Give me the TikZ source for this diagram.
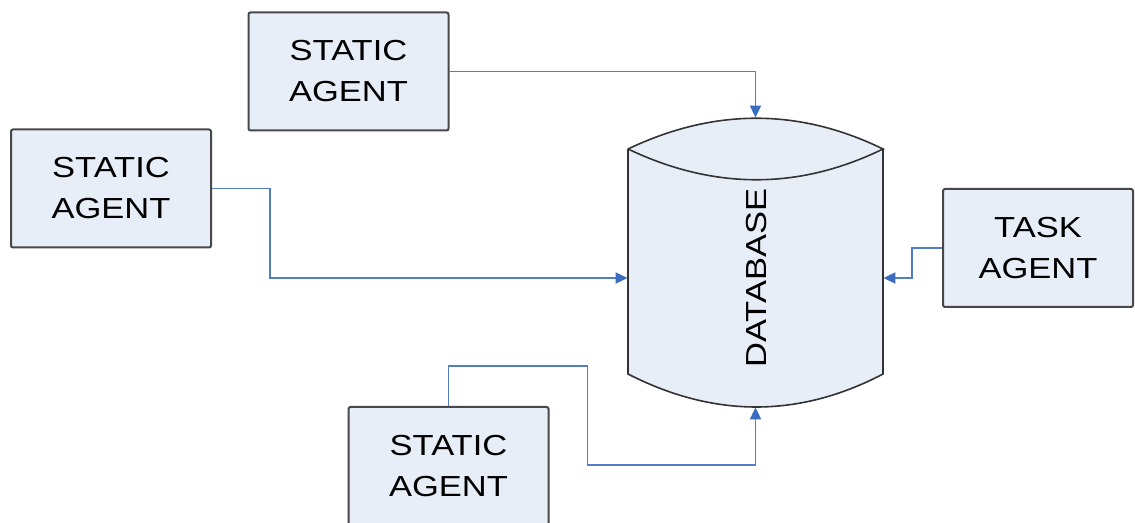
\documentclass[tikz,border=0pt]{standalone}
\usepackage{fontspec}
\setmainfont{Liberation Sans}[FakeStretch=1.19]
\usetikzlibrary{arrows.meta}
\definecolor{agentfill}{RGB}{232,238,248}
\definecolor{agentedge}{RGB}{72,72,72}
\definecolor{linkblue}{RGB}{82,126,200}
\definecolor{tipblue}{RGB}{58,108,192}

\begin{document}
\begin{tikzpicture}[x=0.5pt,y=-0.5pt,
    agent/.style={draw=agentedge,fill=agentfill,line width=1pt,rounded corners=1pt,
      minimum width=100pt,minimum height=59pt,inner sep=0pt,align=center,
      font=\fontsize{14.5}{20.5}\selectfont},
    link/.style={draw=linkblue,line width=0.9pt,
      -{Triangle[length=6pt,width=5.5pt,color=tipblue]}},
    dbline/.style={draw=black!80,line width=0.8pt}]
  \clip (0,0) rectangle (1135,523);
  % database drum
  \fill[agentfill] (628,149) .. controls (714,108) and (799,108) .. (883,149)
    -- (883,374) .. controls (799,418) and (714,418) .. (628,374) -- cycle;
  \draw[dbline] (628,149) .. controls (714,108) and (799,108) .. (883,149)
    .. controls (799,190) and (714,190) .. (628,149);
  \draw[dbline] (628,149) -- (628,374) .. controls (714,418) and (799,418) .. (883,374)
    -- (883,149);
  \node[minimum width=127.5pt,minimum height=144.5pt,inner sep=0pt] (db) at (755.5,262.5) {};
  \node[rotate=90,font=\fontsize{14.5}{17}\selectfont] (dbtext) at (757,278) {DATABASE};

  \node[agent] (sa1) at (348.5,71.5) {STATIC\\AGENT};
  \node[agent] (sa2) at (111,188.5) {STATIC\\AGENT};
  \node[agent] (sa3) at (448.5,466) {STATIC\\AGENT};
  \node[agent,minimum width=95pt] (ta) at (1038,248) {TASK\\AGENT};

  \draw[link] (sa1.east) -| (db.north);
  \draw[link] (sa2.east) -- ++(58,0) |- (db.west |- dbtext);
  \draw[link] (sa3.north) -- ++(0,-40) -- ++(139,0) -- ++(0,99) -| (db.south);
  \draw[link] (ta.west) -- ++(-30,0) |- (db.east |- dbtext);
\end{tikzpicture}
\end{document}
